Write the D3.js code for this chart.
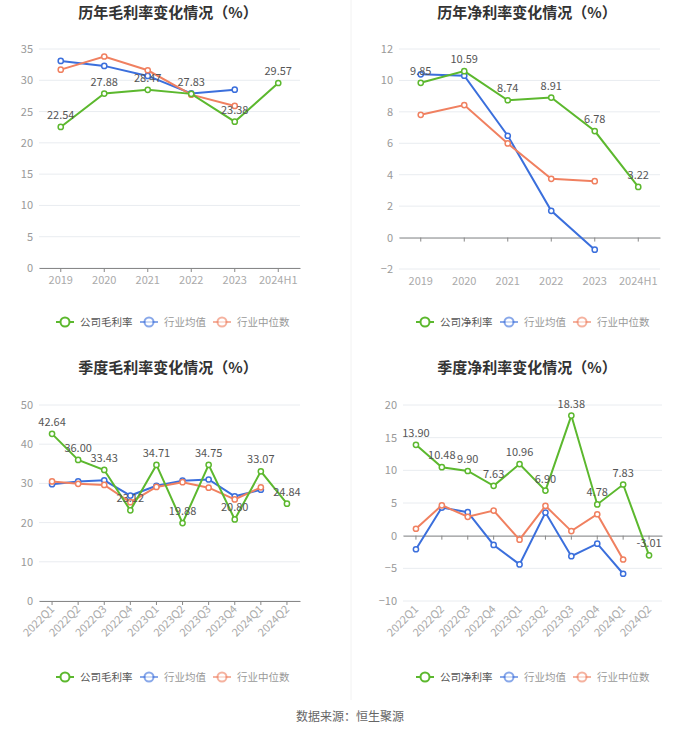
<!DOCTYPE html>
<html><head><meta charset="utf-8">
<script src="https://cdn.jsdelivr.net/npm/d3@7"></script>
<style>
html,body{margin:0;padding:0;background:#fff;}
svg{display:block;font-family:"Noto Sans CJK SC","Noto Sans",sans-serif;}
</style></head>
<body><svg id="c" width="700" height="734"></svg>
<script>
// ---- data ----
const yearCats = ["2019","2020","2021","2022","2023","2024H1"];
const quarterCats = ["2022Q1","2022Q2","2022Q3","2022Q4","2023Q1","2023Q2","2023Q3","2023Q4","2024Q1","2024Q2"];

const annualGrossCompany = [22.54, 27.88, 28.47, 27.83, 23.38, 29.57];
const annualGrossAvg     = [33.1, 32.3, 30.7, 27.9, 28.5, null];
const annualGrossMedian  = [31.7, 33.8, 31.6, 27.7, 25.9, null];

const annualNetCompany = [9.85, 10.59, 8.74, 8.91, 6.78, 3.22];
const annualNetAvg     = [10.39, 10.3, 6.48, 1.7, -0.77, null];
const annualNetMedian  = [7.81, 8.43, 5.99, 3.74, 3.59, null];

const quarterGrossCompany = [42.64, 36.00, 33.43, 23.12, 34.71, 19.88, 34.75, 20.80, 33.07, 24.84];
const quarterGrossAvg     = [29.8, 30.5, 30.8, 26.9, 29.4, 30.7, 31.0, 26.7, 28.4, null];
const quarterGrossMedian  = [30.5, 29.9, 29.6, 25.2, 29.1, 30.3, 28.9, 25.9, 29.0, null];

const quarterNetCompany = [13.90, 10.48, 9.90, 7.63, 10.96, 6.90, 18.38, 4.78, 7.83, -3.01];
const quarterNetAvg     = [-2.08, 4.3, 3.6, -1.42, -4.4, 3.54, -3.14, -1.22, -5.83, null];
const quarterNetMedian  = [1.06, 4.65, 2.89, 3.84, -0.61, 4.56, 0.7, 3.28, -3.65, null];

const yTicksAnnualGross = [0,5,10,15,20,25,30,35];
const yTicksAnnualNet = [-2,0,2,4,6,8,10,12];
const yTicksQuarterGross = [0,10,20,30,40,50];
const yTicksQuarterNet = [-10,-5,0,5,10,15,20];

const seriesNames = ["行业均值","行业中位数"];
const colors = {company:"#5cb82e", avg:"#3b6fdc", median:"#f08060"};

const svg = d3.select("#c");

// faint panel dividers
svg.append("line").attr("x1",351).attr("x2",351).attr("y1",0).attr("y2",700).attr("stroke","#f2f2f2");

function drawChart(o){
  const g = svg.append("g");
  g.append("text").attr("x",o.cx).attr("y",o.titleY).attr("text-anchor","middle")
    .attr("font-size",15).attr("font-weight","bold").attr("fill","#333").text(o.title);

  const x = d3.scaleBand().domain(o.cats).range([o.x0,o.x1]);
  const y = d3.scaleLinear().domain([o.ticks[0], o.ticks[o.ticks.length-1]]).range([o.yBottom,o.yTop]);

  // grid
  g.append("g").selectAll("line").data(o.ticks).join("line")
    .attr("x1",o.x0).attr("x2",o.x1).attr("y1",d=>y(d)).attr("y2",d=>y(d))
    .attr("stroke","#e9ecf0").attr("stroke-width",1);
  // y labels
  const ya = g.append("g").attr("transform",`translate(${o.x0},0)`)
    .call(d3.axisLeft(y).tickValues(o.ticks).tickSize(0).tickPadding(6));
  ya.select(".domain").remove();
  ya.selectAll("text").attr("fill","#999").attr("font-size",11).attr("font-family","'Noto Sans CJK SC',sans-serif");

  // x axis at zero
  const zeroY = y(Math.max(o.ticks[0],0));
  const xa = g.append("g").attr("transform",`translate(0,${zeroY})`)
    .call(d3.axisBottom(x).tickSize(4).tickSizeOuter(0).tickFormat(""));
  xa.select(".domain").attr("stroke","#888");
  xa.selectAll(".tick line").attr("stroke","#888");
  // x labels at bottom
  const lab = g.append("g").selectAll("text").data(o.cats).join("text")
    .attr("fill","#aaa").attr("font-size",11).text(d=>d);
  if(o.rotate){
    lab.attr("text-anchor","end")
      .attr("transform",d=>`translate(${x(d)+x.bandwidth()/2+3},${o.yBottom+9}) rotate(-45)`);
  } else {
    lab.attr("text-anchor","middle").attr("x",d=>x(d)+x.bandwidth()/2).attr("y",o.yBottom+16);
  }

  const cx = (d,i)=>x(o.cats[i])+x.bandwidth()/2;
  const series = [
    {vals:o.avg,color:colors.avg},
    {vals:o.median,color:colors.median},
    {vals:o.company,color:colors.company}
  ];
  series.forEach(s=>{
    const pts = s.vals.map((v,i)=>({v,i})).filter(p=>p.v!==null);
    const line = d3.line().x(p=>cx(null,p.i)).y(p=>y(p.v));
    g.append("path").datum(pts).attr("d",line).attr("fill","none")
      .attr("stroke",s.color).attr("stroke-width",2);
    g.append("g").selectAll("circle").data(pts).join("circle")
      .attr("cx",p=>cx(null,p.i)).attr("cy",p=>y(p.v)).attr("r",2.6)
      .attr("fill","#fff").attr("stroke",s.color).attr("stroke-width",1.5);
  });
  // labels for company
  g.append("g").selectAll("text").data(o.company).join("text")
    .attr("x",(d,i)=>cx(null,i)).attr("y",d=>y(d)-8).attr("text-anchor","middle")
    .attr("font-size",11).attr("fill","#555").text(d=>d.toFixed(2));

  // legend
  const lg = g.append("g").attr("transform",`translate(${o.legendX},${o.legendY})`);
  const items = [
    {name:o.companyName,color:colors.company,text:"#555",op:1,w:0},
    {name:seriesNames[0],color:colors.avg,text:"#999",op:0.6},
    {name:seriesNames[1],color:colors.median,text:"#999",op:0.6}
  ];
  const offs = [0, 84, 157];
  items.forEach((it,k)=>{
    const ig = lg.append("g").attr("transform",`translate(${offs[k]},0)`).attr("opacity",1);
    ig.append("line").attr("x1",0).attr("x2",18).attr("y1",0).attr("y2",0)
      .attr("stroke",it.color).attr("stroke-width",2).attr("opacity",it.op);
    ig.append("circle").attr("cx",9).attr("cy",0).attr("r",4.5).attr("fill","#fff")
      .attr("stroke",it.color).attr("stroke-width",2).attr("opacity",it.op);
    ig.append("text").attr("x",24).attr("y",4).attr("font-size",10.5).attr("fill",it.text).text(it.name);
  });
}

drawChart({title:"历年毛利率变化情况（%）",cx:168,titleY:18,cats:yearCats,x0:39,x1:300,yTop:49,yBottom:268,
  ticks:yTicksAnnualGross,company:annualGrossCompany,avg:annualGrossAvg,median:annualGrossMedian,
  companyName:"公司毛利率",legendX:56,legendY:322,rotate:false});
drawChart({title:"历年净利率变化情况（%）",cx:527,titleY:18,cats:yearCats,x0:399,x1:660,yTop:49,yBottom:269,
  ticks:yTicksAnnualNet,company:annualNetCompany,avg:annualNetAvg,median:annualNetMedian,
  companyName:"公司净利率",legendX:416,legendY:322,rotate:false});
drawChart({title:"季度毛利率变化情况（%）",cx:168,titleY:373,cats:quarterCats,x0:39,x1:300,yTop:405,yBottom:601,
  ticks:yTicksQuarterGross,company:quarterGrossCompany,avg:quarterGrossAvg,median:quarterGrossMedian,
  companyName:"公司毛利率",legendX:56,legendY:677,rotate:true});
drawChart({title:"季度净利率变化情况（%）",cx:527,titleY:373,cats:quarterCats,x0:403,x1:662,yTop:405,yBottom:601,
  ticks:yTicksQuarterNet,company:quarterNetCompany,avg:quarterNetAvg,median:quarterNetMedian,
  companyName:"公司净利率",legendX:416,legendY:677,rotate:true});

svg.append("text").attr("x",350).attr("y",721).attr("text-anchor","middle").attr("font-size",12)
  .attr("fill","#666").text("数据来源：恒生聚源");
</script></body></html>
